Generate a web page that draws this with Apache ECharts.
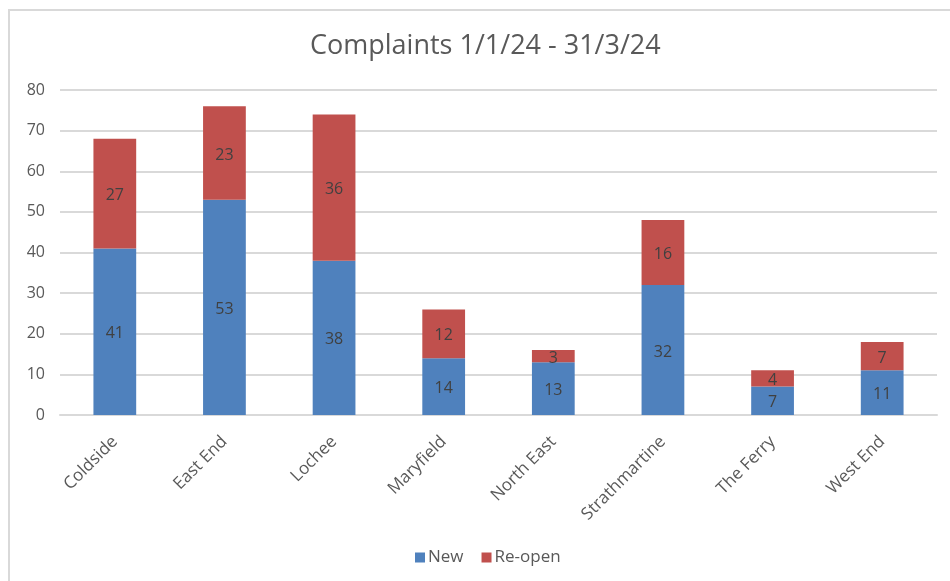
<!DOCTYPE html>
<html>
<head>
<meta charset="utf-8">
<script src="https://cdn.jsdelivr.net/npm/echarts@6/dist/echarts.min.js"></script>
<style>
  html, body { margin: 0; padding: 0; background: #fff; }
  #main { width: 950px; height: 581px; }
</style>
</head>
<body>
<div id="main"></div>
<script>
var categories = ['Coldside', 'East End', 'Lochee', 'Maryfield', 'North East', 'Strathmartine', 'The Ferry', 'West End'];
var newValues = [41, 53, 38, 14, 13, 32, 7, 11];
var reopenValues = [27, 23, 36, 12, 3, 16, 4, 7];
var seriesNames = ['New', 'Re-open'];

var font = '"Open Sans", "Liberation Sans", sans-serif';
var myChart = echarts.init(document.getElementById('main'));

var option = {
    backgroundColor: '#fff',
    color: ['#4f81bd', '#c0504d'],
    title: {
        text: 'Complaints 1/1/24 - 31/3/24',
        left: 305,
        top: 28,
        textStyle: { fontFamily: font, fontSize: 27, fontWeight: 'normal', color: '#595959' }
    },
    legend: {
        data: seriesNames,
        bottom: 10,
        left: 410,
        itemWidth: 10,
        itemHeight: 10,
        itemGap: 18,
        icon: 'rect',
        textStyle: { fontFamily: font, fontSize: 17, color: '#595959', padding: [0, 0, 0, -2] }
    },
    grid: { left: 60, right: 13, top: 90, bottom: 166, containLabel: false },
    xAxis: {
        type: 'category',
        data: categories,
        axisLine: { lineStyle: { color: '#d9d9d9', width: 2 } },
        axisTick: { show: false },
        axisLabel: {
            rotate: 45,
            fontFamily: font,
            fontSize: 17,
            color: '#595959',
            margin: 24
        }
    },
    yAxis: {
        type: 'value',
        min: 0,
        max: 80,
        interval: 10,
        axisLine: { show: false },
        axisTick: { show: false },
        splitLine: { lineStyle: { color: '#d9d9d9', width: 2 } },
        axisLabel: { fontFamily: font, fontSize: 16, color: '#595959', margin: 15 }
    },
    series: [
        {
            name: seriesNames[0],
            type: 'bar',
            stack: 'total',
            barWidth: '39%',
            data: newValues,
            label: { show: true, position: 'inside', offset: [0, 2], fontFamily: font, fontSize: 16, color: '#404040' }
        },
        {
            name: seriesNames[1],
            type: 'bar',
            stack: 'total',
            barWidth: '39%',
            data: reopenValues,
            label: { show: true, position: 'inside', offset: [0, 2], fontFamily: font, fontSize: 16, color: '#404040' }
        }
    ],
    graphic: [
        {
            type: 'polyline',
            shape: { points: [[9, 581], [9, 10], [950, 10]] },
            style: { stroke: '#d9d9d9', lineWidth: 2, fill: null },
            silent: true
        }
    ]
};
myChart.setOption(option);
</script>
</body>
</html>
